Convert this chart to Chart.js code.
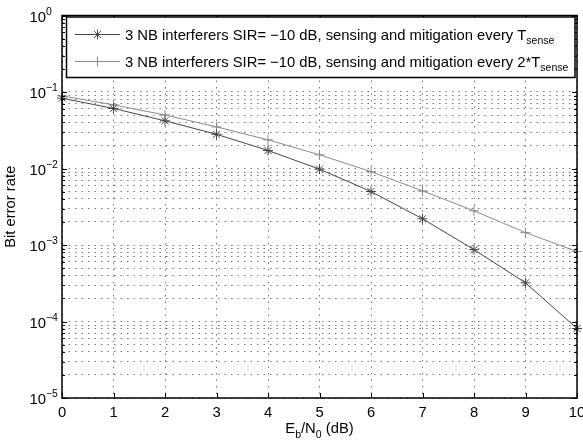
<!DOCTYPE html>
<html>
<head>
<meta charset="utf-8">
<script src="https://cdn.jsdelivr.net/npm/chart.js@4.4.1/dist/chart.umd.min.js"></script>
<style>
  html, body { margin: 0; padding: 0; background: #fff; }
  canvas { display: block; }
</style>
</head>
<body>
<canvas id="berChart" width="583" height="443"></canvas>
<script>
// Eb/N0 values (dB)
const ebN0 = [0, 1, 2, 3, 4, 5, 6, 7, 8, 9, 10];
// BER, sensing and mitigation every T_sense
const berEveryT = [0.083, 0.061, 0.042, 0.028, 0.0172, 0.0098, 0.0050, 0.0022, 0.00087, 0.00032, 0.000081];
// BER, sensing and mitigation every 2*T_sense
const berEvery2T = [0.089, 0.068, 0.050, 0.035, 0.0237, 0.0151, 0.0091, 0.0051, 0.0028, 0.00145, 0.00082];

const xTicks = [0, 1, 2, 3, 4, 5, 6, 7, 8, 9, 10];
const yDecades = [-5, -4, -3, -2, -1, 0];
const legendLines = [
    [["3 NB interferers SIR= \u221210 dB, sensing and mitigation every T", "n"], ["sense", "s"]],
    [["3 NB interferers SIR= \u221210 dB, sensing and mitigation every 2*T", "n"], ["sense", "s"]]
];

const FONT = "'Liberation Sans', Arial, Helvetica, sans-serif";
const BIG = 14.8, SMALL = 10.5;

// log grid: 1..9 in every decade, plus the top one
const yGrid = [];
yDecades.forEach(d => {
    if (d === 0) { yGrid.push(1); return; }
    for (let m = 1; m <= 9; m++) yGrid.push(m * Math.pow(10, d));
});

const seriesStyle = [
    { color: "#454545", point: "star" },
    { color: "#8a8a8a", point: "cross" }
];

function drawMixed(ctx, parts, x, y) {
    parts.forEach(([txt, kind]) => {
        if (kind === "s") {
            ctx.font = SMALL + "px " + FONT;
            ctx.fillText(txt, x, y + 4.5);
        } else if (kind === "p") {
            ctx.font = SMALL + "px " + FONT;
            ctx.fillText(txt, x, y - 7);
        } else {
            ctx.font = BIG + "px " + FONT;
            ctx.fillText(txt, x, y);
        }
        x += ctx.measureText(txt).width;
    });
    return x;
}

function line(ctx, x1, y1, x2, y2) {
    ctx.beginPath();
    ctx.moveTo(x1, y1);
    ctx.lineTo(x2, y2);
    ctx.stroke();
}

const matlabLook = {
    id: "matlabLook",
    afterDraw(chart) {
        const { ctx, chartArea: a, scales: { x, y } } = chart;
        ctx.save();
        ctx.strokeStyle = "#000";
        ctx.fillStyle = "#000";

        // tick marks (inward, all four sides)
        ctx.lineWidth = 1;
        xTicks.forEach(v => {
            const px = Math.round(x.getPixelForValue(v)) + 0.5;
            line(ctx, px, a.bottom, px, a.bottom - 5);
            line(ctx, px, a.top, px, a.top + 5);
        });
        yGrid.forEach(v => {
            const py = Math.round(y.getPixelForValue(v)) + 0.5;
            const len = Math.abs(Math.log10(v) - Math.round(Math.log10(v))) < 1e-9 ? 5 : 3;
            line(ctx, a.left, py, a.left + len, py);
            line(ctx, a.right, py, a.right - len, py);
        });

        // frame
        ctx.lineWidth = 1.5;
        ctx.strokeRect(a.left, a.top, a.right - a.left, a.bottom - a.top);

        // y tick labels 10^n
        ctx.textBaseline = "alphabetic";
        ctx.textAlign = "left";
        yDecades.forEach(d => {
            const py = y.getPixelForValue(Math.pow(10, d));
            const sup = d === 0 ? "0" : "\u2212" + (-d);
            drawMixed(ctx, [["10", "n"], [sup, "p"]], 29.5, py + 6);
        });

        // x axis title E_b/N_0 (dB)
        const xParts = [["E", "n"], ["b", "s"], ["/N", "n"], ["0", "s"], [" (dB)", "n"]];
        let w = 0;
        xParts.forEach(([t, k]) => {
            ctx.font = (k === "n" ? BIG : SMALL) + "px " + FONT;
            w += ctx.measureText(t).width;
        });
        drawMixed(ctx, xParts, (a.left + a.right) / 2 - w / 2, 433);

        // legend
        const box = { l: 66.5, t: 17, r: 575, b: 77.5 };
        ctx.fillStyle = "#fff";
        ctx.fillRect(box.l, box.t, box.r - box.l, box.b - box.t);
        ctx.lineWidth = 1.5;
        ctx.strokeStyle = "#000";
        ctx.strokeRect(box.l, box.t, box.r - box.l, box.b - box.t);
        const rowsY = [34.5, 61.5];
        legendLines.forEach((parts, i) => {
            const st = seriesStyle[i];
            const ry = rowsY[i];
            ctx.strokeStyle = st.color;
            ctx.lineWidth = 1;
            line(ctx, 75, ry, 120, ry);
            Chart.helpers.drawPoint(ctx, { pointStyle: st.point, radius: 5, rotation: 0, borderWidth: 1 }, 97.5, ry);
            ctx.fillStyle = "#000";
            drawMixed(ctx, parts, 125, ry + 5);
        });

        ctx.restore();
    }
};

const datasets = [berEveryT, berEvery2T].map((vals, i) => ({
    data: ebN0.map((e, k) => ({ x: e, y: vals[k] })),
    borderColor: seriesStyle[i].color,
    backgroundColor: seriesStyle[i].color,
    borderWidth: 1,
    pointStyle: seriesStyle[i].point,
    pointRadius: 5,
    pointBorderWidth: 1,
    pointBorderColor: seriesStyle[i].color,
    showLine: true,
    fill: false,
    tension: 0,
    clip: false
}));

new Chart(document.getElementById("berChart"), {
    type: "scatter",
    data: { datasets },
    options: {
        responsive: false,
        animation: false,
        devicePixelRatio: 1,
        layout: { padding: { top: 15.5, right: 6, left: 0, bottom: 0 } },
        plugins: { legend: { display: false }, tooltip: { enabled: false } },
        scales: {
            x: {
                type: "linear",
                min: 0,
                max: 10,
                afterBuildTicks: s => { s.ticks = xTicks.map(v => ({ value: v })); },
                afterFit: s => { s.height = 45; s.paddingLeft = 0; s.paddingRight = 0; },
                ticks: {
                    color: "#000",
                    font: { family: FONT, size: BIG },
                    padding: 6,
                    autoSkip: false,
                    maxRotation: 0,
                    callback: v => String(v)
                },
                grid: { color: "#777", lineWidth: 1, drawTicks: false },
                border: { display: false, dash: [1.5, 5] }
            },
            y: {
                type: "logarithmic",
                min: 1e-5,
                max: 1,
                afterBuildTicks: s => { s.ticks = yGrid.map(v => ({ value: v })); },
                afterFit: s => { s.width = 62; },
                ticks: { display: false, autoSkip: false },
                grid: { color: "#777", lineWidth: 1, drawTicks: false },
                border: { display: false, dash: [1.5, 5] },
                title: {
                    display: true,
                    text: "Bit error rate",
                    color: "#000",
                    font: { family: FONT, size: BIG },
                    padding: { top: 2, bottom: 0 }
                }
            }
        }
    },
    plugins: [matlabLook]
});
</script>
</body>
</html>
